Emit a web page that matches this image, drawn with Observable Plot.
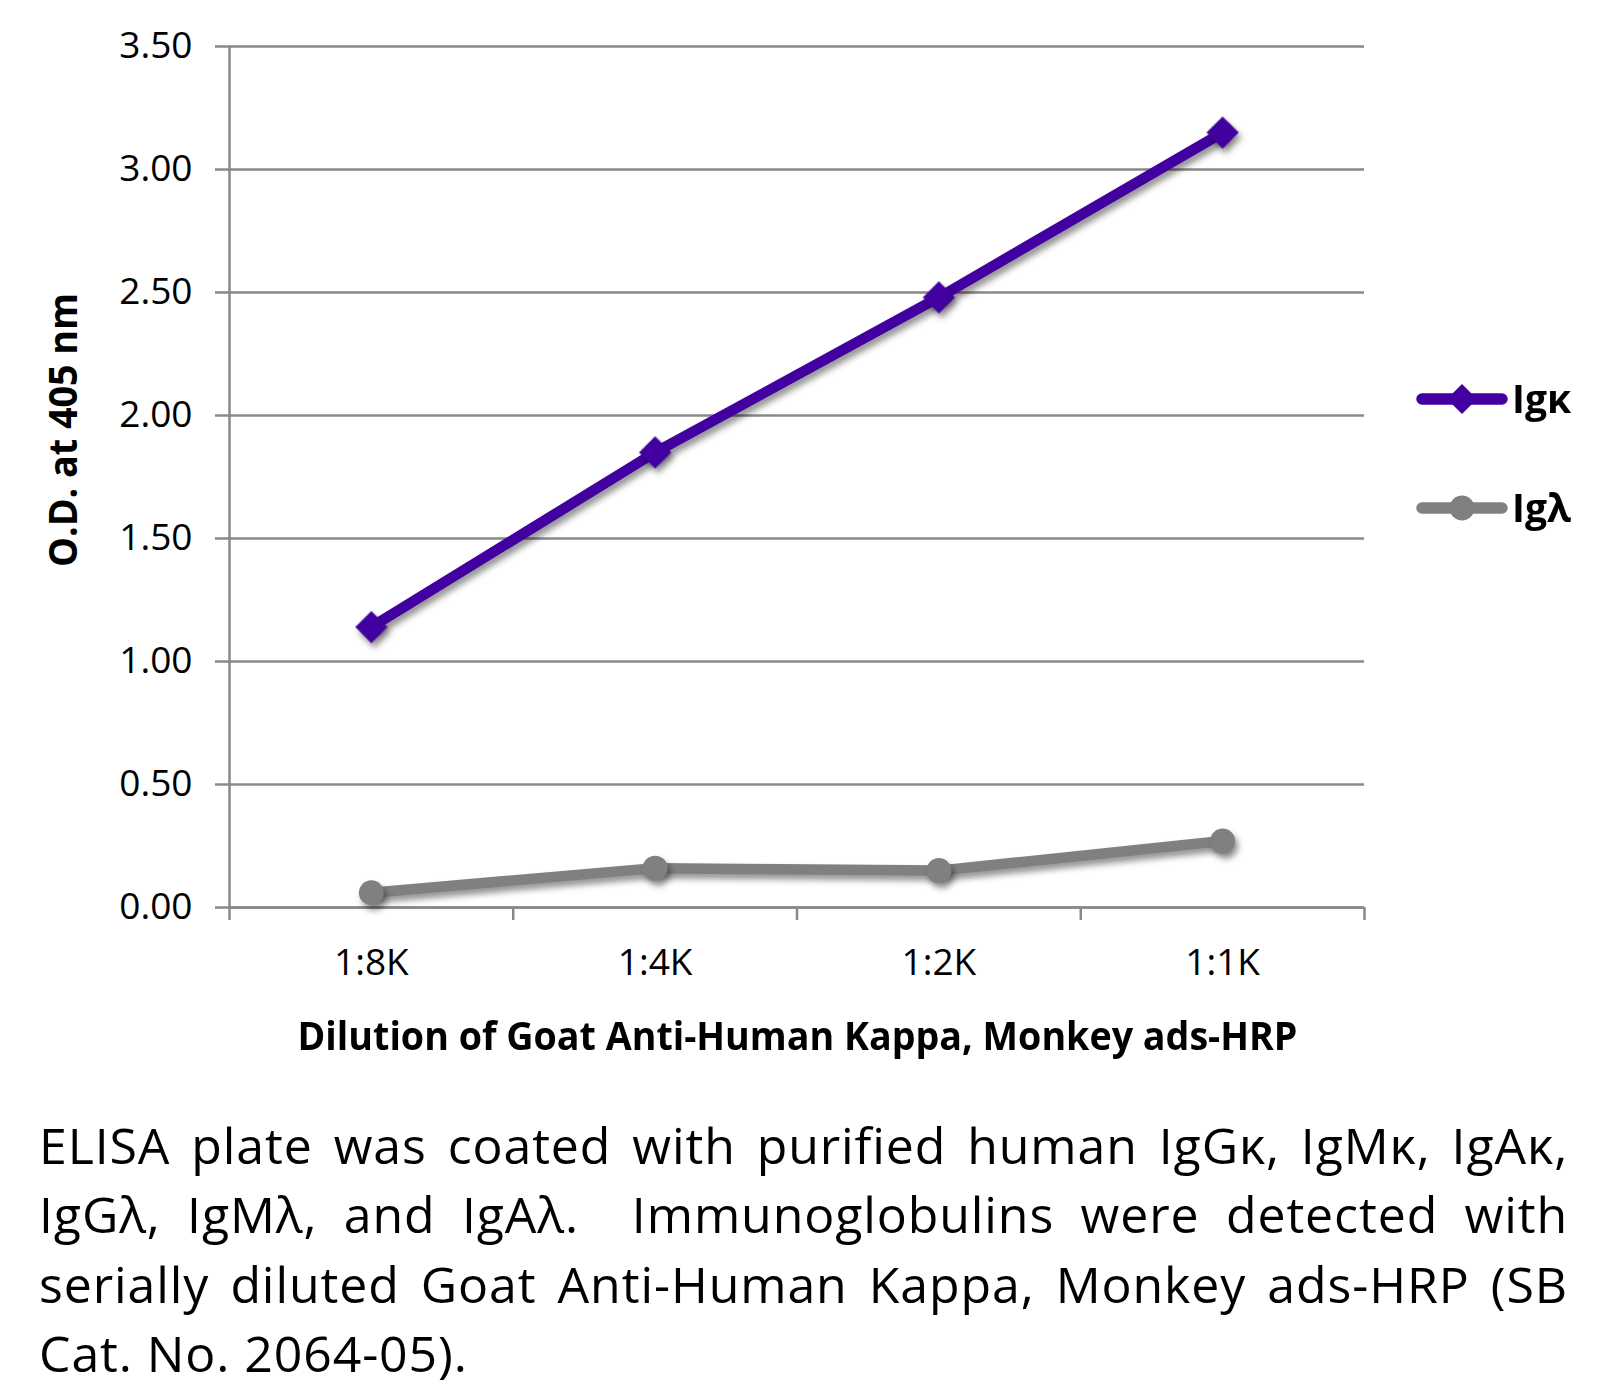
<!DOCTYPE html>
<html>
<head>
<meta charset="utf-8">
<script src="https://cdn.jsdelivr.net/npm/d3@7"></script>
<script src="https://cdn.jsdelivr.net/npm/@observablehq/plot@0.6"></script>
<style>
  html, body { margin: 0; padding: 0; background: #fff; }
  #wrap { position: relative; width: 1620px; height: 1390px; overflow: hidden; font-family: "Open Sans", "Noto Sans", sans-serif; color: #000; }
  #chart { position: absolute; left: 0; top: 0; }
  .title { position: absolute; white-space: nowrap; font-weight: 700; font-size: 40px; line-height: 40px; transform-origin: 50% 50%; }
  #legend { position: absolute; left: 0; top: 0; }
  .legtext { position: absolute; white-space: nowrap; font-weight: 700; font-size: 39px; line-height: 39px; }
  #caption { position: absolute; left: 39px; top: 1111px; width: 1529px; font-size: 50px; line-height: 69.4px; letter-spacing: 0.9px; }
  #caption div { text-align: justify; text-align-last: justify; }
  #caption div.last { text-align: left; text-align-last: left; }
</style>
</head>
<body>
<div id="wrap">
  <div id="chart"></div>
  <div id="ytitle" class="title">O.D. at 405 nm</div>
  <div id="xtitle" class="title">Dilution of Goat Anti-Human Kappa, Monkey ads-HRP</div>
  <div id="legend"></div>
  <div id="caption"></div>
</div>
<script>
// ---- data ----
const dilutions = ["1:8K", "1:4K", "1:2K", "1:1K"];
const igKappa = [1.14, 1.85, 2.48, 3.15];
const igLambda = [0.06, 0.16, 0.15, 0.27];
const yTicks = [0, 0.5, 1, 1.5, 2, 2.5, 3, 3.5];
const seriesNames = ["Igκ", "Igλ"];
const seriesColors = ["#4300a0", "#808080"];
const seriesSymbols = ["diamond2", "circle"];
const captionLines = [
  "ELISA plate was coated with purified human IgGκ, IgMκ, IgAκ,",
  "IgGλ, IgMλ, and IgAλ.\u00a0 Immunoglobulins were detected with",
  "serially diluted Goat Anti-Human Kappa, Monkey ads-HRP (SB",
  "Cat. No. 2064-05)."
];

const seriesValues = [igKappa, igLambda];
const rows = seriesNames.flatMap((s, k) =>
  dilutions.map((d, i) => ({ series: s, dilution: d, pos: i + 0.5, value: seriesValues[k][i] }))
);

const gray = "#898989";
const font = '"Open Sans", "Noto Sans", sans-serif';

const plot = Plot.plot({
  width: 1620,
  height: 1000,
  marginLeft: 229,
  marginRight: 256,
  marginTop: 46,
  marginBottom: 93,
  style: { fontFamily: font, fontSize: "37px", color: "#000", background: "transparent", overflow: "visible" },
  x: { domain: [0, dilutions.length], label: null },
  y: { domain: [0, 3.5], label: null },
  color: { domain: seriesNames, range: seriesColors },
  marks: [
    Plot.gridY(yTicks, { stroke: gray, strokeOpacity: 1, strokeWidth: 2.5 }),
    Plot.axisY(yTicks, { tickSize: 14, tickPadding: 23, tickFormat: d3.format(".2f"), stroke: gray, strokeWidth: 2.5, fill: "#000", fontSize: 37, label: null }),
    Plot.axisX(d3.range(dilutions.length + 1), { tickSize: 13, tickFormat: () => "", stroke: gray, strokeWidth: 2.5, label: null }),
    Plot.axisX(dilutions.map((d, i) => i + 0.5), { tickSize: 0, tickPadding: 41, tickFormat: v => dilutions[Math.floor(v)], fill: "#000", fontSize: 37, label: null }),
    Plot.ruleY([0], { stroke: gray, strokeWidth: 2.5 }),
    Plot.ruleX([0], { stroke: gray, strokeWidth: 2.5 }),
    Plot.line(rows, { x: "pos", y: "value", z: "series", stroke: "series", strokeWidth: 10.5, strokeLinecap: "round", strokeLinejoin: "round" }),
    Plot.dot(rows.filter(r => r.series === seriesNames[0]), { x: "pos", y: "value", symbol: seriesSymbols[0], r: 14.5, fill: seriesColors[0], stroke: "none" }),
    Plot.dot(rows.filter(r => r.series === seriesNames[1]), { x: "pos", y: "value", symbol: seriesSymbols[1], r: 12.5, fill: seriesColors[1], stroke: "none" })
  ]
});
plot.querySelectorAll('g[aria-label="line"], g[aria-label="dot"]').forEach(g => {
  g.style.filter = "drop-shadow(3px 5px 3px rgba(0,0,0,0.42))";
});
document.getElementById("chart").appendChild(plot);

// ---- titles (fit to measured widths in the reference) ----
function fitTitle(id, cx, cy, targetW, rotate) {
  const el = document.getElementById(id);
  const w = el.offsetWidth, h = el.offsetHeight;
  const s = targetW / w;
  el.style.left = (cx - w / 2) + "px";
  el.style.top = (cy - h / 2) + "px";
  el.style.transform = (rotate ? "rotate(-90deg) " : "") + "scaleX(" + s + ")";
}
fitTitle("xtitle", 797, 1035, 1000, false);
fitTitle("ytitle", 61, 430, 274, true);

// ---- legend ----
const legendY = [399, 508];
const leg = d3.select("#legend");
const lsvg = leg.append("svg").attr("width", 1620).attr("height", 1000)
  .style("position", "absolute").style("left", "0px").style("top", "0px");
seriesNames.forEach((s, k) => {
  const y = legendY[k];
  lsvg.append("line").attr("x1", 1422).attr("x2", 1502).attr("y1", y).attr("y2", y)
    .attr("stroke", seriesColors[k]).attr("stroke-width", 11.5).attr("stroke-linecap", "round");
  const sym = k === 0 ? d3.symbolDiamond2 : d3.symbolCircle;
  lsvg.append("path").attr("d", d3.symbol(sym, Math.PI * (k === 0 ? 13.5 : 12.5) ** 2)())
    .attr("transform", `translate(1462,${y})`).attr("fill", seriesColors[k]);
  leg.append("div").attr("class", "legtext").text(s)
    .style("left", "1512px").style("top", (y - 21) + "px");
});

// ---- caption ----
const cap = d3.select("#caption");
captionLines.forEach((t, i) => {
  cap.append("div").attr("class", i === captionLines.length - 1 ? "last" : null).text(t);
});
</script>
</body>
</html>
